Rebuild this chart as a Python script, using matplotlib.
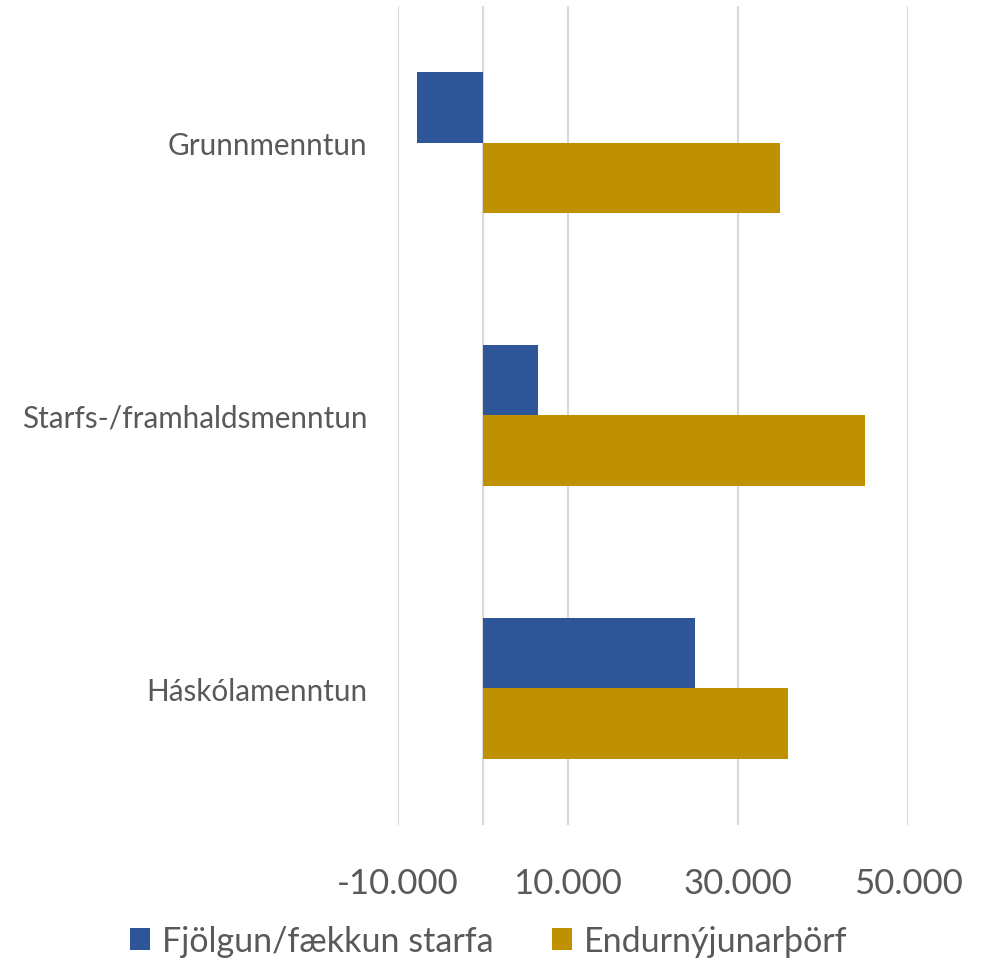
import matplotlib.pyplot as plt
import numpy as np
from matplotlib.ticker import FuncFormatter

categories = ['Grunnmenntun', 'Starfs-/framhaldsmenntun', 'Háskólamenntun']
fjolgun = [-7800, 6500, 24900]
endurnyjun = [34900, 44900, 35900]
series_names = ['Fjölgun/fækkun starfa', 'Endurnýjunarþörf']
x_ticks = [-10000, 10000, 30000, 50000]

plt.rcParams['font.family'] = ['Lato', 'DejaVu Sans']
txt = '#595959'

fig = plt.figure(figsize=(9.83, 9.62), dpi=100)
ax = fig.add_axes([0.4049, 0.1414, 0.5188, 0.8513])

y = np.arange(len(categories))
h = 0.26
ax.barh(y - h / 2, fjolgun, height=h, color='#2E5597', label=series_names[0], zorder=3)
ax.barh(y + h / 2, endurnyjun, height=h, color='#BF9000', label=series_names[1], zorder=3)

ax.set_ylim(len(categories) - 0.5, -0.5)
ax.set_xlim(-10000, 50000)
ax.set_yticks(y)
ax.set_yticklabels(categories, fontsize=21.3, color=txt)
ax.set_xticks(x_ticks)
ax.xaxis.set_major_formatter(FuncFormatter(lambda v, p: f'{v:,.0f}'.replace(',', '.')))
ax.tick_params(axis='x', labelsize=25, labelcolor=txt, length=0, pad=30)
ax.tick_params(axis='y', length=0, pad=22)
ax.grid(axis='x', color='#D9D9D9', linewidth=1.5, zorder=0)
ax.axvline(0, color='#D9D9D9', linewidth=1.5, zorder=1)
for s in ax.spines.values():
    s.set_visible(False)

leg = fig.legend(loc='center', bbox_to_anchor=(0.497, 0.021), ncol=2, frameon=False,
                 fontsize=24.5, handlelength=0.6, handleheight=0.6, handletextpad=0.35,
                 columnspacing=1.7)
for t in leg.get_texts():
    t.set_color(txt)

fig.savefig('out.png', dpi=100)
